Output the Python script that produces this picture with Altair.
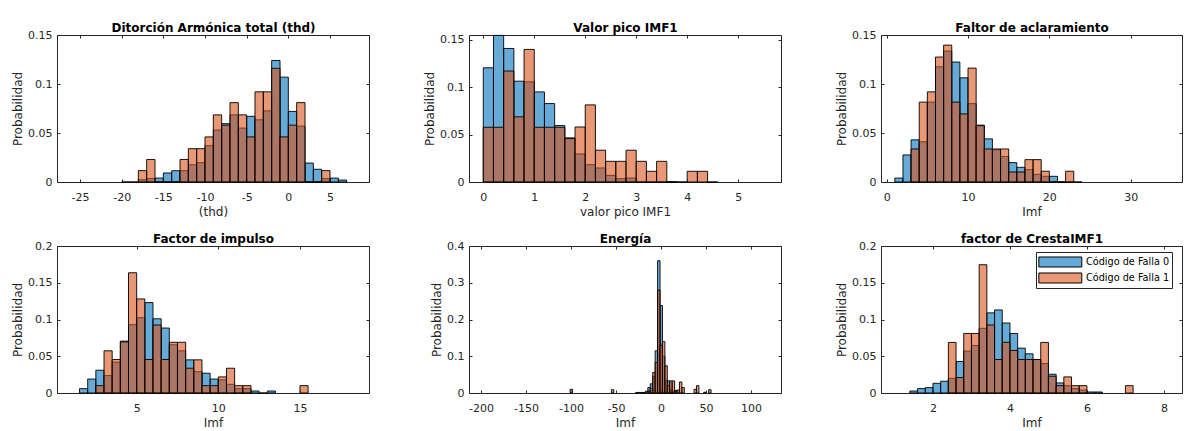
import altair as alt
import pandas as pd

FONT = "DejaVu Sans"
INK = "#262626"
BLUE = "rgba(0,114,189,0.6)"
ORANGE = "rgba(217,83,25,0.6)"
SERIES = ["Código de Falla 0", "Código de Falla 1"]

# ---------------- data (bin left edges + probabilities) ----------------
# Panel 1: Ditorción Armónica total (thd), bin width 1
thd_w = 1.0
thd_b_start = [-20, -19, -18, -17, -16, -15, -14, -13, -12, -11, -10, -9, -8, -7,
               -6, -5, -4, -3, -2, -1, 0, 1, 2, 3, 4, 5, 6]
thd_b_prob = [0.0, 0.0, 0.0023, 0.0035, 0.004, 0.0092, 0.0115, 0.0115, 0.0176, 0.0197,
              0.037, 0.053, 0.0595, 0.0685, 0.055, 0.067, 0.0635, 0.0726, 0.124, 0.107,
              0.072, 0.057, 0.0193, 0.013, 0.0035, 0.004, 0.002]
thd_o_start = [-18, -17, -16, -15, -14, -13, -12, -11, -10, -9, -8, -7, -6, -5, -4,
               -3, -2, -1, 0, 1, 2, 3, 4]
thd_o_prob = [0.0116, 0.023, 0.0, 0.0, 0.0, 0.023, 0.034, 0.034, 0.046, 0.0685, 0.058,
              0.081, 0.0685, 0.046, 0.092, 0.092, 0.116, 0.046, 0.058, 0.081, 0.0, 0.0,
              0.0116]

# Panel 2: Valor pico IMF1, bin width 0.2
vp_w = 0.2
vp_b_start = [0.0, 0.2, 0.4, 0.6, 0.8, 1.0, 1.2, 1.4, 1.6, 1.8, 2.0, 2.2, 2.4, 2.6,
              2.8, 3.0, 3.2, 3.4, 3.6]
vp_b_prob = [0.1204, 0.1546, 0.1408, 0.1063, 0.1056, 0.095, 0.0827, 0.0595, 0.0465,
             0.0296, 0.0183, 0.0148, 0.007, 0.0035, 0.0042, 0.0, 0.0, 0.0, 0.0]
vp_o_start = [0.0, 0.2, 0.4, 0.6, 0.8, 1.0, 1.2, 1.4, 1.6, 1.8, 2.0, 2.2, 2.4, 2.6,
              2.8, 3.0, 3.2, 3.4, 3.6, 3.8, 4.0, 4.2, 4.4]
vp_o_prob = [0.0577, 0.0577, 0.117, 0.0687, 0.1398, 0.0577, 0.0577, 0.0577, 0.0458,
             0.058, 0.0813, 0.0335, 0.0218, 0.0218, 0.0335, 0.0218, 0.0113, 0.0218,
             0.0, 0.0, 0.0113, 0.0113, 0.0]

# Panel 3: Faltor de aclaramiento, bin width 1
fa_w = 1.0
fa_b_start = [1, 2, 3, 4, 5, 6, 7, 8, 9, 10, 11, 12, 13, 14, 15, 16, 17, 18, 19, 20,
              21, 22, 23]
fa_b_prob = [0.004, 0.0276, 0.043, 0.041, 0.0815, 0.1176, 0.1336, 0.1224, 0.1063,
             0.080, 0.058, 0.044, 0.033, 0.026, 0.0198, 0.015, 0.0126, 0.0078, 0.0058,
             0.0058, 0.0, 0.0, 0.0]
fa_o_start = [3, 4, 5, 6, 7, 8, 9, 10, 11, 12, 13, 14, 15, 16, 17, 18, 19, 20, 21, 22]
fa_o_prob = [0.0337, 0.0815, 0.092, 0.1275, 0.1397, 0.0815, 0.0695, 0.1162, 0.0575,
             0.0337, 0.0337, 0.0337, 0.0102, 0.0102, 0.0228, 0.0228, 0.011, 0.0, 0.0,
             0.011]

# Panel 4: Factor de impulso, bin width 0.5
fi_w = 0.5
fi_b_start = [1.5, 2.0, 2.5, 3.0, 3.5, 4.0, 4.5, 5.0, 5.5, 6.0, 6.5, 7.0, 7.5, 8.0,
              8.5, 9.0, 9.5, 10.0, 10.5, 11.0, 11.5, 12.0, 12.5, 13.0]
fi_b_prob = [0.0059, 0.019, 0.031, 0.0237, 0.042, 0.0706, 0.093, 0.1025, 0.123, 0.101,
             0.0884, 0.0656, 0.0574, 0.0451, 0.029, 0.0269, 0.019, 0.0178, 0.0118,
             0.0059, 0.0059, 0.0027, 0.0, 0.0027]
fi_o_start = [2.5, 3.0, 3.5, 4.0, 4.5, 5.0, 5.5, 6.0, 6.5, 7.0, 7.5, 8.0, 8.5, 9.0,
              9.5, 10.0, 10.5, 11.0, 11.5, 15.0]
fi_o_prob = [0.01, 0.0574, 0.0456, 0.0695, 0.1636, 0.128, 0.0456, 0.0925, 0.0456,
             0.069, 0.069, 0.0337, 0.0451, 0.01, 0.01, 0.0219, 0.0337, 0.01, 0.01, 0.01]

# Panel 5: Energía, bin width 2.7
en_w = 2.7
en_b_start = [-28.1, -25.4, -22.7, -20.0, -17.3, -14.6, -11.9, -9.2, -6.5, -3.8, -1.1,
              1.6, 4.3, 7.0, 9.7, 12.4, 15.1, 47.5]
en_b_prob = [0.0015, 0.0015, 0.0015, 0.0015, 0.005, 0.015, 0.025, 0.045, 0.115, 0.36,
             0.238, 0.1, 0.035, 0.033, 0.008, 0.005, 0.007, 0.002]
en_o_start = [-101.0, -55.1, -14.6, -11.9, -9.2, -6.5, -3.8, -1.1, 1.6, 4.3, 7.0, 9.7,
              12.4, 15.1, 17.8, 20.5, 23.2, 36.7, 39.4, 52.9]
en_o_prob = [0.01, 0.009, 0.005, 0.012, 0.056, 0.083, 0.28, 0.13, 0.14, 0.074, 0.02,
             0.033, 0.033, 0.005, 0.008, 0.03, 0.015, 0.01, 0.02, 0.009]

# Panel 6: factor de CrestaIMF1, bin width 0.2
fc_w = 0.2
fc_b_start = [1.4, 1.6, 1.8, 2.0, 2.2, 2.4, 2.6, 2.8, 3.0, 3.2, 3.4, 3.6, 3.8, 4.0,
              4.2, 4.4, 4.6, 4.8, 5.0, 5.2, 5.4, 5.6, 5.8, 6.0, 6.2]
fc_b_prob = [0.0027, 0.006, 0.0073, 0.0132, 0.016, 0.02, 0.0428, 0.057, 0.0647, 0.088,
             0.109, 0.113, 0.0952, 0.081, 0.061, 0.0533, 0.0456, 0.040, 0.0255, 0.0137,
             0.01, 0.006, 0.004, 0.0014, 0.0014]
fc_o_start = [2.4, 2.6, 2.8, 3.0, 3.2, 3.4, 3.6, 3.8, 4.0, 4.2, 4.4, 4.6, 4.8, 5.0,
              5.2, 5.4, 5.6, 5.8, 7.0]
fc_o_prob = [0.0688, 0.021, 0.081, 0.081, 0.1745, 0.0925, 0.0456, 0.069, 0.0579,
             0.0456, 0.0456, 0.0456, 0.0688, 0.0228, 0.01, 0.0219, 0.01, 0.01, 0.01]


def frame(starts, width, probs, serie):
    return pd.DataFrame({
        "start": starts,
        "end": [round(s + width, 4) for s in starts],
        "prob": probs,
        "serie": serie,
    })


LABEL_EXPR = "'' + datum.value"


def panel(title, xtitle, bw, bstart, bprob, ostart, oprob, xdom, xticks, ydom, yticks,
          width, legend=False):
    df0 = frame(bstart, bw, bprob, SERIES[0])
    df1 = frame(ostart, bw, oprob, SERIES[1])
    xs = alt.Scale(domain=xdom, nice=False, zero=False)
    ys = alt.Scale(domain=ydom, nice=False, zero=True)
    xa = alt.Axis(values=xticks, orient="bottom", offset=-3, tickSize=3, domain=False,
                  labelPadding=9, labelExpr=LABEL_EXPR, title=xtitle, titlePadding=4)
    ya = alt.Axis(values=yticks, orient="left", offset=-3, tickSize=3, domain=False,
                  labelPadding=5, labelExpr=LABEL_EXPR, title="Probabilidad",
                  titlePadding=3)
    # top axis: inward ticks + the panel title (bold)
    xa2 = alt.Axis(values=xticks, orient="top", offset=-3, tickSize=3, domain=False,
                   labels=False, title=title, titleFont=FONT, titleFontSize=12,
                   titleFontWeight="bold", titleColor="black", titlePadding=0)
    ya2 = alt.Axis(values=yticks, orient="right", offset=-3, tickSize=3, domain=False,
                   labels=False, title=None)
    cs = alt.Scale(domain=SERIES, range=[BLUE, ORANGE])
    if legend:
        leg = alt.Legend(
            orient="none", legendX=155, legendY=6, title=None,
            symbolType="M-1,-0.7L5,-0.7L5,0.7L-1,0.7Z", symbolSize=205,
            symbolStrokeColor="black", symbolStrokeWidth=1,
            labelFont=FONT, labelFontSize=9.7, labelColor="black", labelOffset=32,
            fillColor="white", strokeColor=INK, padding=2, rowPadding=0,
        )
    else:
        leg = None
    fill0 = alt.Fill("serie:N", scale=cs, legend=leg)
    fill1 = alt.Fill("serie:N", scale=cs, legend=leg)
    mk = dict(stroke="black", strokeWidth=1, strokeOpacity=0.9)
    b = alt.Chart(df0).mark_bar(**mk).encode(
        x=alt.X("start:Q", scale=xs, axis=xa), x2="end:Q",
        y=alt.Y("prob:Q", scale=ys, axis=ya), y2=alt.datum(0), fill=fill0)
    o = alt.Chart(df1).mark_bar(**mk).encode(
        x=alt.X("start:Q", scale=xs, axis=xa2), x2="end:Q",
        y=alt.Y("prob:Q", scale=ys, axis=ya2), y2=alt.datum(0), fill=fill1)
    return (
        alt.layer(b, o)
        .resolve_axis(x="independent", y="independent")
        .properties(width=width, height=147)
    )


y15 = [0, 0.05, 0.1, 0.15]
y20 = [0, 0.05, 0.1, 0.15, 0.2]

p1 = panel("Ditorción Armónica total (thd)", "(thd)", thd_w, thd_b_start, thd_b_prob,
           thd_o_start, thd_o_prob, [-27.76, 9.68], [-25, -20, -15, -10, -5, 0, 5],
           [0, 0.15], y15, 312)
p2 = panel("Valor pico IMF1", "valor pico IMF1", vp_w, vp_b_start, vp_b_prob,
           vp_o_start, vp_o_prob, [-0.28, 5.84], [0, 1, 2, 3, 4, 5],
           [0, 0.155], y15, 312)
p3 = panel("Faltor de aclaramiento", "Imf", fa_w, fa_b_start, fa_b_prob,
           fa_o_start, fa_o_prob, [-0.7, 36.31], [0, 10, 20, 30],
           [0, 0.15], y15, 301)
p4 = panel("Factor de impulso", "Imf", fi_w, fi_b_start, fi_b_prob,
           fi_o_start, fi_o_prob, [0.12, 19.23], [5, 10, 15],
           [0, 0.2], y20, 312)
p5 = panel("Energía", "Imf", en_w, en_b_start, en_b_prob,
           en_o_start, en_o_prob, [-213.3, 133.3], [-200, -150, -100, -50, 0, 50, 100],
           [0, 0.4], [0, 0.1, 0.2, 0.3, 0.4], 312)
p6 = panel("factor de CrestaIMF1", "Imf", fc_w, fc_b_start, fc_b_prob,
           fc_o_start, fc_o_prob, [0.65, 8.47], [2, 4, 6, 8],
           [0, 0.2], y20, 301, legend=True)

chart = (
    alt.concat(p1, p2, p3, p4, p5, p6, columns=3,
               spacing={"row": 64, "column": 100}, bounds="flush")
    .resolve_scale(fill="independent")
    .properties(padding={"left": 11, "top": 21, "right": 0, "bottom": 0},
                background="white")
    .configure_view(stroke=INK, strokeWidth=1)
    .configure_axis(labelFont=FONT, labelFontSize=11, labelColor=INK,
                    titleFont=FONT, titleFontSize=12, titleFontWeight="normal",
                    titleColor=INK, tickColor=INK, tickWidth=1, grid=False)
)

chart.save("out.html", embed_options={"renderer": "svg", "actions": False})
